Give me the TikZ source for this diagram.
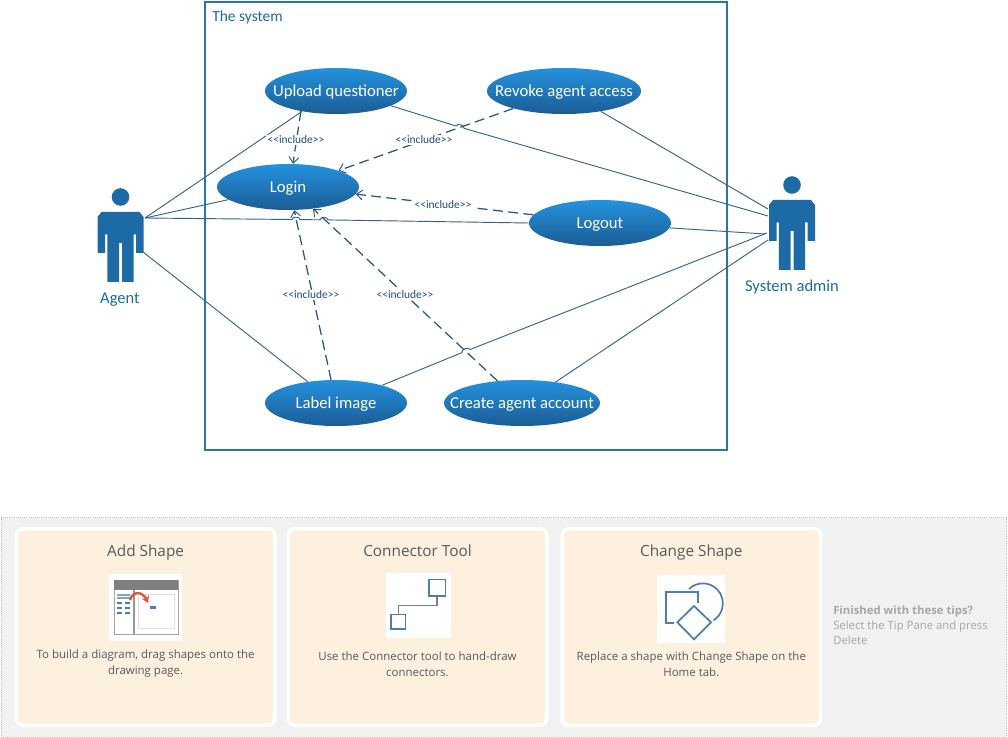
\documentclass[tikz,border=0pt]{standalone}
\usepackage{fontspec}
\setmainfont{Open Sans}
\newfontfamily\visiofont{Carlito}
\usetikzlibrary{shapes.geometric,arrows.meta}
\definecolor{caseTop}{HTML}{2492DF}
\definecolor{caseBottom}{HTML}{1B5C94}
\definecolor{figureBlue}{HTML}{1C6AA6}
\definecolor{frameBlue}{HTML}{2B74AE}
\definecolor{linkBlue}{HTML}{2F6690}
\definecolor{dashBlue}{HTML}{265A82}
\definecolor{includeBlue}{HTML}{1F4E79}
\definecolor{paneGray}{HTML}{F1F1F1}
\definecolor{cardCream}{HTML}{FDF0DF}
\definecolor{tipGray}{HTML}{595959}
\definecolor{noteGray}{HTML}{A6A6A6}
\definecolor{iconBlue}{HTML}{4A7EB5}
\definecolor{iconGray}{HTML}{7F7F7F}
\definecolor{iconRed}{HTML}{D9573B}
\tikzset{
  actorfigure/.pic={
    \fill[figureBlue] (0,0) circle[radius=6.6pt];
    \fill[figureBlue] (-19,15) -- (-23,20) -- (-23,56) -- (-15.5,56) -- (-15.5,37.5)
      -- (-13.2,37.5) -- (-13.2,85) -- (-1.5,85) -- (-1.5,46) -- (1.5,46) -- (1.5,85)
      -- (13.2,85) -- (13.2,37.5) -- (15.5,37.5) -- (15.5,56) -- (23,56) -- (23,20)
      -- (19,15) -- cycle;
  }
}
\begin{document}
\begin{tikzpicture}
[x=0.75pt,y=-0.75pt,
  casedecorate/.style={shape=ellipse,inner sep=0pt,minimum width=106.5pt,minimum height=34.5pt,
    top color=caseTop,bottom color=caseBottom},
  casetext/.style={text=white,text height=10.5pt,text depth=2pt,font=\visiofont\fontsize{12.5}{14}\selectfont},
  figuretext/.style={text=figureBlue,text height=9.5pt,text depth=2pt,font=\visiofont\fontsize{12.4}{14}\selectfont},
  includetext/.style={text=includeBlue,fill=white,inner sep=1pt,font=\visiofont\fontsize{8.6}{9}\selectfont},
  linedecorate/.style={-,draw=linkBlue,line width=0.7pt},
  dashdecorate/.style={draw=dashBlue,line width=0.95pt,dash pattern=on 7.5pt off 4pt,
    -{Straight Barb[length=4.5pt,width=7.5pt,line width=0.7pt]}},
  carddecorate/.style={shape=rectangle,rounded corners=5pt,fill=cardCream,draw=white,line width=2.6pt,
    minimum width=193.9pt,minimum height=147.4pt},
  cardtitle/.style={text=tipGray,text height=9pt,text depth=3pt,font=\fontsize{11.5}{14}\selectfont},
  cardtext/.style={text=tipGray,align=center,font=\fontsize{8.6}{12}\selectfont},
  iconback/.style={shape=rectangle,fill=white,inner sep=0pt}]
\useasboundingbox (0,0) rectangle (1008,738);
% system frame
\node (system) at (466,226) [shape=rectangle,draw=frameBlue,line width=1.5pt,minimum width=391.5pt,minimum height=336pt] {};
\node (systemtext) at (212,17) [anchor=west,inner sep=0pt,text=figureBlue,font=\visiofont\fontsize{11.6}{12}\selectfont] {The system};
% actors
\pic (agentfigure) at (120.5,197) {actorfigure};
\pic (adminfigure) at (792,185) {actorfigure};
\node (agenttext) at (120,299) [figuretext] {Agent};
\node (admintext) at (792,287) [figuretext] {System admin};
\coordinate (agentarm) at (145,218);
\coordinate (agentleg) at (143,252);
\coordinate (adminrevoke) at (768,209);
\coordinate (adminupload) at (768,216);
\coordinate (adminlogout) at (765,234);
\coordinate (adminlabel) at (767,233);
\coordinate (admincreate) at (768,240);
% line hops
\coordinate (hopa) at (292,219.5);
\coordinate (hopb) at (300,219.6);
\coordinate (hopc) at (320,219.8);
\coordinate (hopd) at (328,219.9);
\coordinate (hope) at (456,126);
\coordinate (hopf) at (464,128.3);
\coordinate (hopg) at (462,352.6);
\coordinate (hoph) at (470,349.5);
% use cases
\node (upload) at (336,91) [casedecorate] {};
\node (login) at (288,187) [casedecorate] {};
\node (revoke) at (564,91) [casedecorate,minimum width=115.5pt] {};
\node (logout) at (600,223) [casedecorate] {};
\node (label) at (336,403) [casedecorate] {};
\node (create) at (522,403) [casedecorate,minimum width=117pt] {};
\node (uploadtext) at (upload) [casetext] {Upload questioner};
\node (logintext) at (login) [casetext] {Login};
\node (revoketext) at (revoke) [casetext] {Revoke agent access};
\node (logouttext) at (logout) [casetext] {Logout};
\node (labeltext) at (label) [casetext] {Label image};
\node (createtext) at (create) [casetext] {Create agent account};
% solid links
\path
(agentarm) edge[linedecorate] (upload.211)
(agentarm) edge[linedecorate] (login.192)
(agentleg) edge[linedecorate] (label.143)
(revoke.-29) edge[linedecorate] (adminrevoke)
(logout.-4) edge[linedecorate] (adminlogout)
(create.32) edge[linedecorate] (admincreate);
\draw[linedecorate] (agentarm) -- (hopa) to[bend left=90] (hopb) -- (hopc) to[bend left=90] (hopd) -- (logout.180);
\draw[linedecorate] (upload.-15) -- (hope) to[bend left=90] (hopf) -- (adminupload);
\draw[linedecorate] (label.21) -- (hopg) to[bend left=90] (hoph) -- (adminlabel);
% dashed links
\path
(upload.210) edge[dashdecorate] (login.78)
(revoke.199) edge[dashdecorate] (login.18)
(logout.173) edge[dashdecorate] (login.-6)
(label.102) edge[dashdecorate] (login.-75)
(create.138) edge[dashdecorate] (login.-41);
\node (includea) at (296,140) [includetext] {<<include>>};
\node (includeb) at (424,140) [includetext] {<<include>>};
\node (includec) at (443,205) [includetext] {<<include>>};
\node (included) at (311,295) [includetext] {<<include>>};
\node (includee) at (405,295) [includetext] {<<include>>};
% tip pane
\node (tippane) at (503.5,627.5) [shape=rectangle,fill=paneGray,draw=black!25,densely dotted,line width=0.6pt,minimum width=753.7pt,minimum height=165pt] {};
\node (cardadd) at (145.6,627) [carddecorate] {};
\node (cardconnector) at (417.5,627) [carddecorate] {};
\node (cardchange) at (691.3,627) [carddecorate] {};
\node (titleadd) at (145.6,552.5) [cardtitle] {Add Shape};
\node (titleconnector) at (417.5,552.5) [cardtitle] {Connector Tool};
\node (titlechange) at (691.3,552.5) [cardtitle] {Change Shape};
\node (textadd) at (145.6,664) [cardtext] {To build a diagram, drag shapes onto the\\drawing page.};
\node (textconnector) at (417.5,664) [cardtext] {Use the Connector tool to hand-draw\\connectors.};
\node (textchange) at (691.3,664) [cardtext] {Replace a shape with Change Shape on the\\Home tab.};
\node (notetext) at (833,606) [anchor=north west,inner sep=0pt,align=left,text=noteGray,font=\fontsize{8.5}{11}\selectfont] {\textbf{Finished with these tips?}\\Select the Tip Pane and press\\Delete};
% add shape icon
\node (iconadd) at (145.5,607.5) [iconback,minimum width=54.5pt,minimum height=50pt] {};
\draw[noteGray,line width=0.75pt] (114,580) rectangle (178,634);
\fill[iconGray] (114,580) rectangle (178,590);
\draw[iconGray!80,line width=1.4pt] (134,590) -- (134,634);
\draw[black!12,line width=0.75pt] (138,594) rectangle (174,628);
\draw[iconBlue!70,line width=0.8pt] (117,595) -- (130,595) (117,598) -- (130,598);
\foreach \rowy in {603,608,613}
  \draw[iconBlue,line width=0.9pt] (117,\rowy) -- (122,\rowy) (125,\rowy) -- (130,\rowy);
\draw[iconRed,line width=1.8pt,-{Stealth[length=5pt,width=6pt]}] (130,600) .. controls (133,590) and (143,592) .. (148,603);
\fill[iconBlue] (150,606) rectangle (156,608.5);
% connector tool icon
\node (iconconnector) at (418.2,605.5) [iconback,minimum width=48.7pt,minimum height=48.7pt] {};
\node (bigsquare) at (437.2,587.7) [shape=rectangle,fill=white,draw=iconBlue,line width=1.1pt,inner sep=0pt,minimum size=12.5pt] {};
\node (smallsquare) at (398.3,621.8) [shape=rectangle,fill=white,draw=iconBlue,line width=1.1pt,inner sep=0pt,minimum size=11pt] {};
\draw[iconGray,line width=1.1pt] (bigsquare.south) -- ++(0,8.6) -| (smallsquare.north);
% change shape icon
\node (iconchange) at (691.2,609.3) [iconback,minimum width=51pt,minimum height=51pt] {};
\draw[iconBlue,line width=1.3pt] (689,589) arc[start angle=134,end angle=-58,radius=15pt];
\draw[iconBlue,line width=1.3pt] (698.3,603) -- (698.3,591.7) -- (666,591.7) -- (666,622.7) -- (674.3,622.7);
\draw[iconBlue,line width=1.3pt] (694,606) -- (711,622.3) -- (694,639.3) -- (677.3,622.3) -- cycle;
\end{tikzpicture}
\end{document}
